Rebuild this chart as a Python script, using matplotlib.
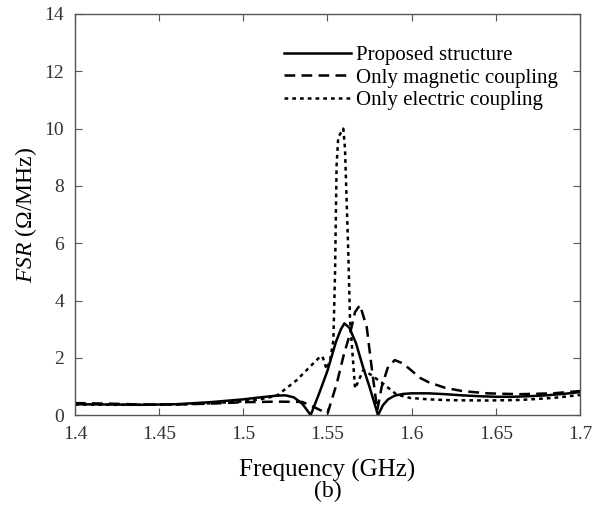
import matplotlib
matplotlib.use("Agg")
import matplotlib.pyplot as plt

plt.rcParams['font.family'] = ['Liberation Serif', 'DejaVu Serif']
plt.rcParams['mathtext.fontset'] = 'custom'
plt.rcParams['mathtext.it'] = 'Liberation Serif:italic'
plt.rcParams['mathtext.rm'] = 'Liberation Serif'

# Proposed structure
f_prop = [1.40, 1.42, 1.44, 1.46, 1.48, 1.50, 1.51, 1.52, 1.525, 1.53, 1.535, 1.54,
          1.545, 1.55, 1.555, 1.558, 1.56, 1.563, 1.567, 1.571, 1.575, 1.58,
          1.583, 1.586, 1.59, 1.595, 1.60, 1.61, 1.62, 1.63, 1.64, 1.65,
          1.66, 1.67, 1.68, 1.69, 1.70]
v_prop = [0.38, 0.37, 0.36, 0.38, 0.45, 0.55, 0.62, 0.68, 0.69, 0.62, 0.40, 0.0,
          0.75, 1.55, 2.55, 3.0, 3.2, 3.05, 2.5, 1.7, 0.98, 0.0,
          0.35, 0.55, 0.68, 0.74, 0.76, 0.76, 0.73, 0.69, 0.66, 0.64,
          0.64, 0.66, 0.69, 0.74, 0.80]

# Only magnetic coupling
f_mag = [1.40, 1.42, 1.44, 1.46, 1.48, 1.50, 1.52, 1.535, 1.542, 1.55,
         1.5555, 1.5594, 1.5634, 1.5664, 1.5693, 1.5733, 1.5762, 1.5788, 1.5796,
         1.5822, 1.586, 1.590, 1.595, 1.599, 1.605, 1.61, 1.62, 1.63, 1.645,
         1.664, 1.684, 1.70]
v_mag = [0.42, 0.40, 0.37, 0.37, 0.40, 0.45, 0.47, 0.46, 0.28, 0.05,
         1.1, 2.04, 2.85, 3.6, 3.84, 3.08, 1.69, 0.52, 0.17,
         0.99, 1.69, 1.92, 1.8, 1.6, 1.3, 1.15, 0.95, 0.84, 0.76,
         0.73, 0.76, 0.84]

# Only electric coupling
f_ele = [1.40, 1.42, 1.44, 1.46, 1.48, 1.50, 1.51, 1.52, 1.5317, 1.5396, 1.5455,
         1.547, 1.5495, 1.5515, 1.5535, 1.5545, 1.5554, 1.5564, 1.5594, 1.5604,
         1.5624, 1.5634, 1.5664, 1.5713, 1.576, 1.583, 1.591, 1.599, 1.61,
         1.623, 1.645, 1.665, 1.684, 1.70]
v_ele = [0.37, 0.36, 0.36, 0.37, 0.41, 0.48, 0.55, 0.68, 1.22, 1.69, 2.03,
         2.05, 1.6, 1.9, 2.6, 5.0, 8.7, 9.7, 10.0, 9.3,
         5.6, 3.3, 0.93, 1.57, 1.4, 1.1, 0.72, 0.6, 0.55,
         0.52, 0.51, 0.53, 0.6, 0.7]

x_ticks = [1.4, 1.45, 1.5, 1.55, 1.6, 1.65, 1.7]
x_tick_labels = ['1.4', '1.45', '1.5', '1.55', '1.6', '1.65', '1.7']
y_ticks = [0, 2, 4, 6, 8, 10, 12, 14]

fig = plt.figure(figsize=(5.93, 5.05), dpi=100)
ax = fig.add_axes([0.1265, 0.178, 0.8515, 0.7943])

ax.plot(f_prop, v_prop, color='black', lw=1.8, linestyle='-', label='Proposed structure')
ax.plot(f_mag, v_mag, color='black', lw=1.8, linestyle=(0, (4.3, 2.5)), label='Only magnetic coupling')
ax.plot(f_ele, v_ele, color='black', lw=1.8, linestyle=(0, (1.5, 1.6)), label='Only electric coupling')

ax.set_xlim(1.4, 1.7)
ax.set_ylim(0, 14)
ax.set_xticks(x_ticks)
ax.set_xticklabels(x_tick_labels)
ax.set_yticks(y_ticks)

for s in ax.spines.values():
    s.set_color('#555555')
    s.set_linewidth(1.0)
ax.tick_params(direction='in', top=True, right=True, length=5, width=0.8,
               color='#555555', labelsize=14, labelcolor='#333333')
ax.tick_params(axis='x', pad=8)
ax.tick_params(axis='y', pad=8)

ax.set_xlabel('Frequency (GHz)', fontsize=18, labelpad=11)
ax.set_ylabel(r'$\it{FSR}$ (Ω/MHz)', fontsize=17, labelpad=4)
fig.text(0.553, 0.016, '(b)', fontsize=17, ha='center')

ax.legend(loc='upper right', bbox_to_anchor=(0.985, 0.958), frameon=False, fontsize=15,
          handlelength=3.2, handletextpad=0.25, labelspacing=0.15, borderaxespad=0.3)

fig.savefig('out.png', dpi=100)
